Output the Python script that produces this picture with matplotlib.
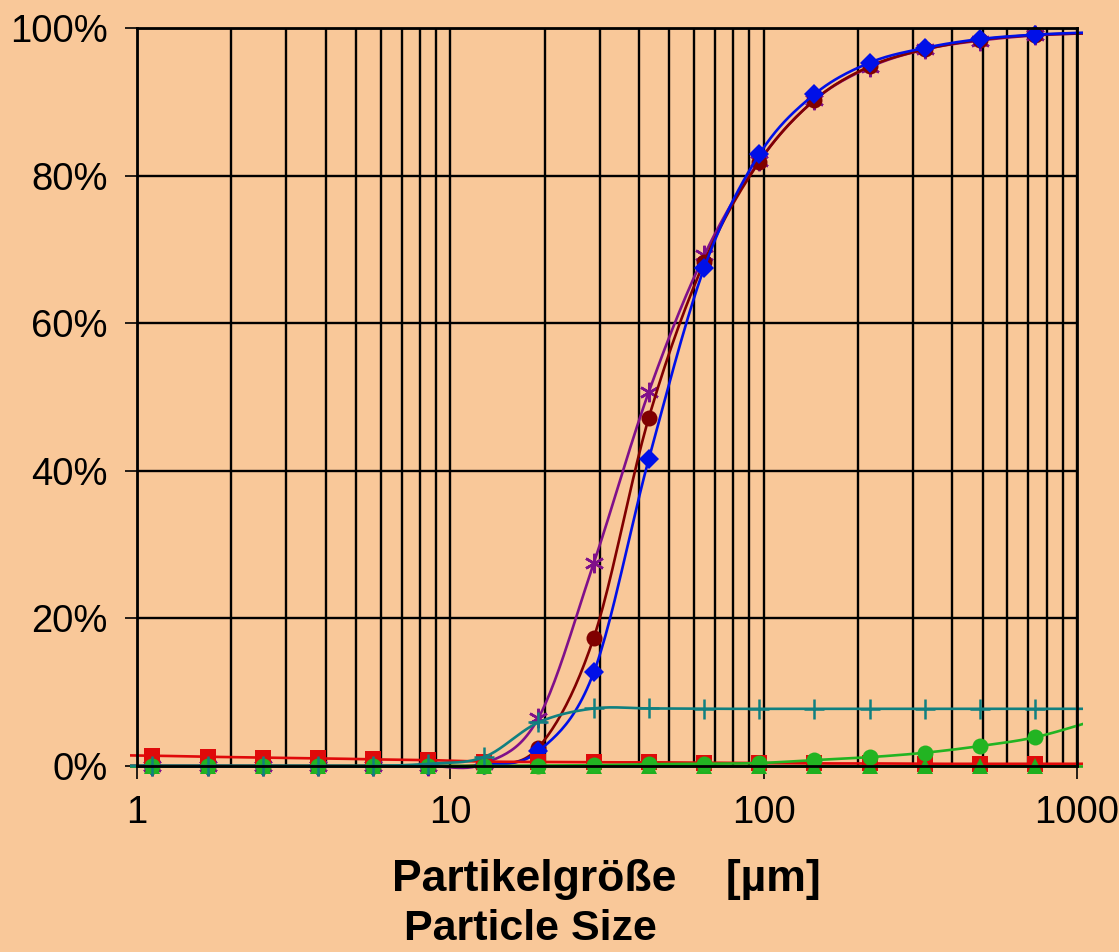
import numpy as np
import matplotlib
matplotlib.use("Agg")
import matplotlib.pyplot as plt
from matplotlib.patches import Rectangle
from matplotlib.ticker import FixedLocator, FuncFormatter, NullFormatter

# Sieve sizes in µm (geometric series, factor 1.5)
sizes_um = [0.75, 1.12, 1.68, 2.52, 3.78, 5.67, 8.51, 12.8, 19.1, 28.7,
            43.0, 64.6, 96.9, 145, 218, 327, 490, 736, 1104]

# Cumulative passing, percent
series_purple = [0, 0, 0, 0, 0, 0, 0, 0.3, 6.5, 27.5,
                 50.7, 69.2, 82.0, 90.2, 94.7, 97.1, 98.3, 99.0, 99.3]
series_maroon = [0, 0, 0, 0, 0, 0, 0, 0.2, 2.5, 17.4,
                 47.2, 68.3, 81.9, 90.2, 94.8, 97.1, 98.4, 99.05, 99.3]
series_blue = [0, 0, 0, 0, 0, 0, 0, 0.1, 2.0, 12.7,
               41.6, 67.5, 82.9, 91.0, 95.3, 97.3, 98.5, 99.1, 99.4]
series_red = [1.5, 1.4, 1.25, 1.15, 1.05, 0.9, 0.8, 0.6, 0.55, 0.5,
              0.5, 0.45, 0.4, 0.35, 0.35, 0.3, 0.3, 0.3, 0.3]
series_green_tri = [0, 0, 0, 0, 0, 0, 0, 0, 0, 0,
                    0, 0, 0, 0, 0, 0, 0, 0, 0]
series_green_circ = [0, 0, 0, 0, 0, 0, 0, 0, 0.05, 0.1,
                     0.25, 0.3, 0.4, 0.8, 1.2, 1.8, 2.7, 3.9, 6.0]
series_teal = [0, 0, 0, 0, 0, 0, 0.3, 1.2, 5.9, 7.8,
               7.8, 7.75, 7.75, 7.75, 7.75, 7.75, 7.75, 7.75, 7.75]

x_ticks = [1, 10, 100, 1000]
x_tick_labels = ["1", "10", "100", "1000"]
y_ticks = [0, 20, 40, 60, 80, 100]

BG = "#F9C899"
FONT = "Liberation Sans"


def smooth(xs, ys, n=24):
    """Catmull-Rom style smoothing in (log x, y) space."""
    u = np.log10(np.asarray(xs, float))
    v = np.asarray(ys, float)
    pts = np.column_stack([u, v])
    out = []
    m = len(pts)
    for i in range(m - 1):
        p0 = pts[i - 1] if i > 0 else pts[i]
        p1 = pts[i]
        p2 = pts[i + 1]
        p3 = pts[i + 2] if i + 2 < m else pts[i + 1]
        c1 = p1 + (p2 - p0) / 6.0
        c2 = p2 - (p3 - p1) / 6.0
        t = np.linspace(0, 1, n, endpoint=(i == m - 2))[:, None]
        seg = ((1 - t) ** 3) * p1 + 3 * ((1 - t) ** 2) * t * c1 \
            + 3 * (1 - t) * t ** 2 * c2 + t ** 3 * p2
        out.append(seg)
    arr = np.vstack(out)
    return 10 ** arr[:, 0], arr[:, 1]


fig = plt.figure(figsize=(11.19, 9.52), dpi=100, facecolor=BG)
ax = fig.add_axes([137 / 1119, 186 / 952, 940 / 1119, 738 / 952])
ax.set_facecolor(BG)
ax.set_xscale("log")
ax.set_xlim(1, 1000)
ax.set_ylim(0, 100)

# grid
ax.xaxis.set_major_locator(FixedLocator(x_ticks))
ax.xaxis.set_minor_locator(FixedLocator(
    [m * 10 ** e for e in range(0, 3) for m in range(2, 10)]))
ax.xaxis.set_minor_formatter(NullFormatter())
ax.set_xticklabels(x_tick_labels)
ax.yaxis.set_major_locator(FixedLocator(y_ticks))
ax.yaxis.set_major_formatter(FuncFormatter(lambda v, p: f"{int(v)}%"))
ax.grid(True, which="both", axis="x", color="black", lw=1.7)
ax.grid(True, which="major", axis="y", color="black", lw=1.7)
ax.set_axisbelow(True)
for s in ax.spines.values():
    s.set_color("black")
    s.set_linewidth(2.0)

ax.tick_params(axis="both", which="major", length=9, width=1.2,
               direction="out", labelsize=27.5, colors="black")
ax.tick_params(axis="x", which="minor", length=0)
ax.tick_params(axis="x", which="major", pad=12)
ax.tick_params(axis="y", which="major", pad=12)
for lab in ax.get_xticklabels() + ax.get_yticklabels():
    lab.set_fontfamily(FONT)

line_clip = Rectangle((-7 / 940, -0.1), 1 + 13 / 940, 1.2,
                      transform=ax.transAxes)
mark_clip = Rectangle((0, -0.1), 1, 1.2, transform=ax.transAxes)

specs = [
    (series_purple, "#80108A", (6, 2, 0), 14, dict(mfc="none", mew=1.8)),
    (series_maroon, "#800000", "o", 11.5, dict(mew=0)),
    (series_blue, "#0010E8", "D", 10.5, dict(mew=0)),
    (series_red, "#E00A0A", "s", 11, dict(mew=0)),
    (series_green_tri, "#1FB01F", "^", 11.5, dict(mew=0)),
    (series_green_circ, "#22B422", "o", 11.5, dict(mew=0)),
    (series_teal, "#108080", "+", 15, dict(mew=1.8)),
]

for vals, col, mk, ms, kw in specs:
    sx, sy = smooth(sizes_um, vals)
    ln, = ax.plot(sx, sy, color=col, lw=1.9, solid_capstyle="butt")
    ln.set_clip_path(line_clip)
    mks, = ax.plot(sizes_um, vals, ls="none", marker=mk, ms=ms,
                   color=col, mec=col, **kw)
    mks.set_clip_path(mark_clip)

fig.text(392 / 1119, 1 - 891 / 952, "Partikelgröße    [µm]",
         fontsize=32, fontweight="bold", family=FONT, ha="left",
         va="baseline")
fig.text(404 / 1119, 1 - 940 / 952, "Particle Size",
         fontsize=31, fontweight="bold", family=FONT, ha="left",
         va="baseline")

fig.savefig("out.png", dpi=100, facecolor=BG)
